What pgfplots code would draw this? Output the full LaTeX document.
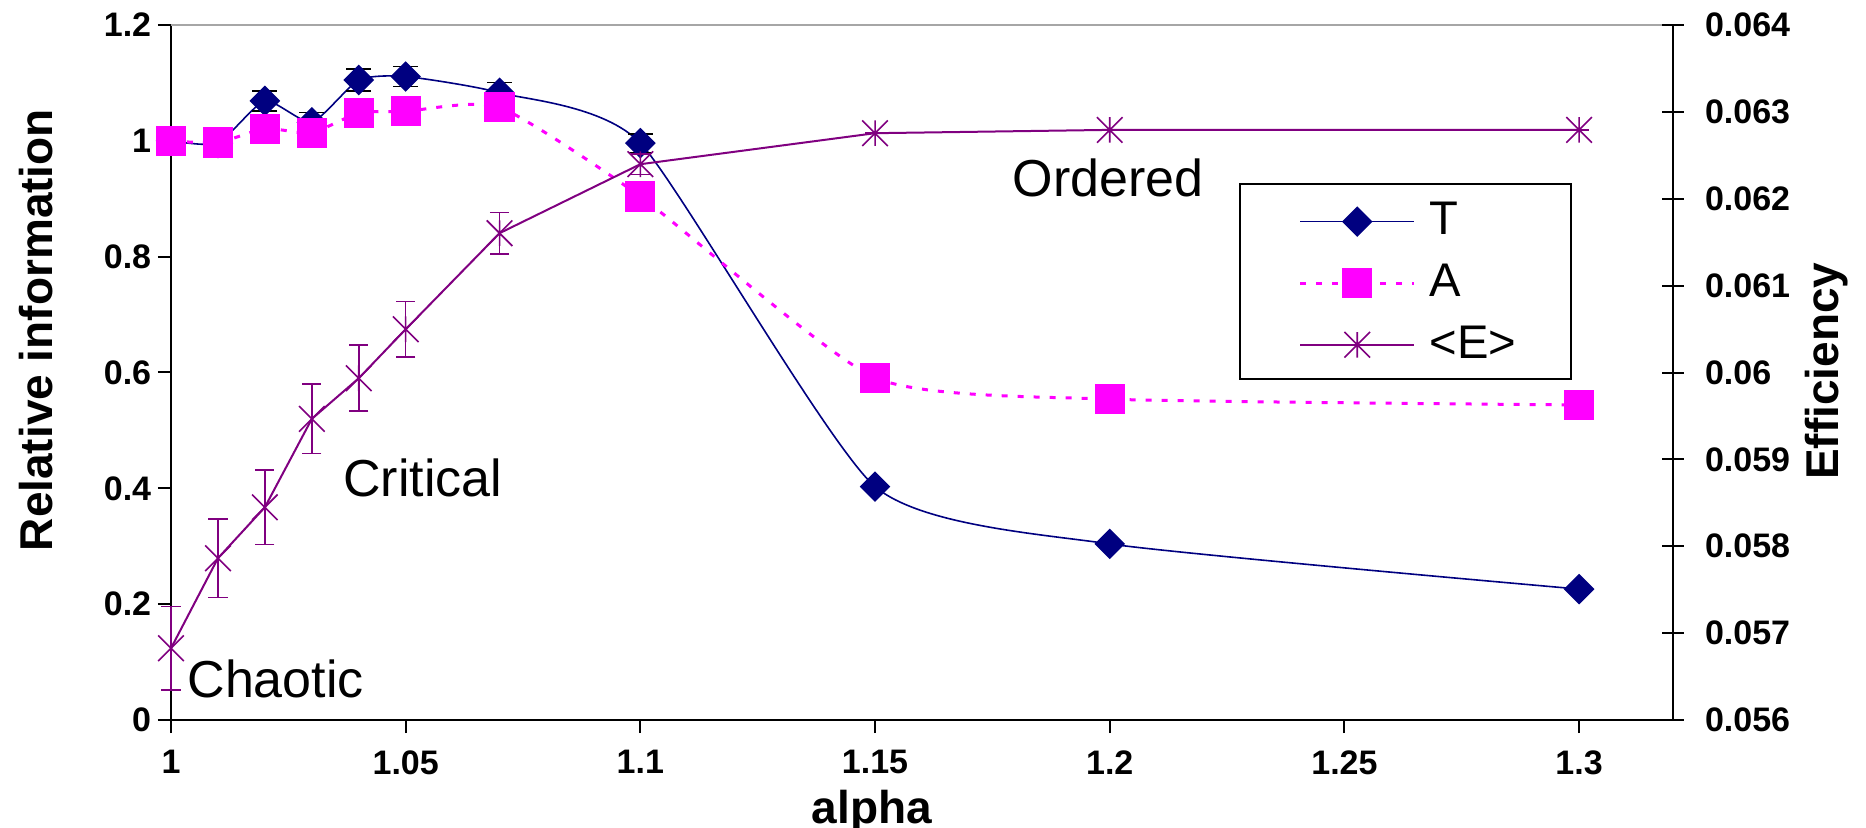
\documentclass[border=0pt]{standalone}
\usepackage{fontspec}
\setmainfont{Liberation Sans}
\usepackage{pgfplots}
\pgfplotsset{compat=1.18}
\usepackage{pgfplotstable}

\definecolor{Tcol}{RGB}{0,0,128}
\definecolor{Acol}{RGB}{255,0,255}
\definecolor{Ecol}{RGB}{128,0,128}

\pgfdeclareplotmark{xstar}{%
  \pgfpathmoveto{\pgfqpoint{-\pgfplotmarksize}{-\pgfplotmarksize}}%
  \pgfpathlineto{\pgfqpoint{\pgfplotmarksize}{\pgfplotmarksize}}%
  \pgfpathmoveto{\pgfqpoint{-\pgfplotmarksize}{\pgfplotmarksize}}%
  \pgfpathlineto{\pgfqpoint{\pgfplotmarksize}{-\pgfplotmarksize}}%
  \pgfpathmoveto{\pgfqpoint{0pt}{-\pgfplotmarksize}}%
  \pgfpathlineto{\pgfqpoint{0pt}{\pgfplotmarksize}}%
  \pgfusepathqstroke}

\pgfplotstableread{
x y e
1.00 1.000 0.015
1.01 0.996 0.025
1.02 1.069 0.017
1.03 1.032 0.017
1.04 1.105 0.019
1.05 1.111 0.017
1.07 1.083 0.018
1.10 0.996 0.016
1.15 0.403 0
1.20 0.304 0
1.30 0.226 0
}\Tdata

\pgfplotstableread{
x y
1.00 1.000
1.01 0.997
1.02 1.021
1.03 1.014
1.04 1.048
1.05 1.051
1.07 1.058
1.10 0.904
1.15 0.591
1.20 0.554
1.30 0.544
}\Adata

\pgfplotstableread{
x y e
1.00 0.056826 0.00048
1.01 0.057862 0.00045
1.02 0.058449 0.00043
1.03 0.059466 0.00040
1.04 0.059934 0.00038
1.05 0.060498 0.00032
1.07 0.061604 0.00024
1.10 0.062398 0.00012
1.15 0.062755 0
1.20 0.062793 0
1.30 0.062793 0
}\Edata

\begin{document}
\begin{tikzpicture}
\begin{axis}[
  at={(0,0)}, anchor=south west,
  scale only axis, width=375.5bp, height=173.75bp,
  xmin=1, xmax=1.32, ymin=0, ymax=1.2,
  axis x line*=bottom, axis y line*=left,
  axis line style={line width=0.6bp, black},
  xtick={1,1.05,1.1,1.15,1.2,1.25,1.3},
  xticklabels={1,1.05,1.1,1.15,1.2,1.25,1.3},
  ytick={0,0.2,0.4,0.6,0.8,1,1.2},
  yticklabels={0,0.2,0.4,0.6,0.8,1,1.2},
  tick align=outside, major tick length=3.25bp,
  tick style={line width=0.5bp, black},
  /pgf/number format/assume math mode=true,
  ticklabel style={font=\bfseries\fontsize{8.5bp}{10bp}\selectfont},
  yticklabel style={xshift=1.8bp},
  xticklabel style={yshift=-0.8bp},
  xlabel={alpha}, ylabel={Relative information},
  label style={font=\bfseries\fontsize{11.5bp}{13bp}\selectfont},
  xlabel style={at={(rel axis cs:0.4667,-0.1324)}, anchor=center},
  ylabel style={at={(rel axis cs:-0.0899,0.561)}, anchor=center},
  clip=false,
]
\draw[gray!70, line width=0.5bp] (rel axis cs:0,1) -- (rel axis cs:1,1);

\addplot[Tcol, line width=0.4bp, smooth, tension=0.35,
  mark=square*, mark size=2.5bp,
  mark options={rotate=45, solid, fill=Tcol, draw=Tcol},
  error bars/.cd, y dir=both, y explicit,
  error bar style={black, line width=0.4bp},
  error mark options={rotate=90, black, mark size=3.1bp, line width=0.4bp}]
  table[x=x, y=y, y error=e]{\Tdata};

\addplot[Acol, line width=0.75bp, dash pattern=on 1.5bp off 2.5bp, smooth, tension=0.35,
  mark=square*, mark size=3.4bp,
  mark options={solid, fill=Acol, draw=Acol}]
  table[x=x, y=y]{\Adata};

\node[anchor=base west, inner sep=0pt, font=\fontsize{13bp}{15bp}\selectfont] at (axis cs:1.00334,0.0397) {Chaotic};
\node[anchor=base west, inner sep=0pt, font=\fontsize{13bp}{15bp}\selectfont] at (axis cs:1.03653,0.3857) {Critical};
\node[anchor=base west, inner sep=0pt, font=\fontsize{13bp}{15bp}\selectfont] at (axis cs:1.1792,0.9038) {Ordered};
\end{axis}

\begin{axis}[
  at={(0,0)}, anchor=south west,
  scale only axis, width=375.5bp, height=173.75bp,
  xmin=1, xmax=1.32, ymin=0.056, ymax=0.064,
  axis x line=none, axis y line*=right,
  axis line style={line width=0.6bp, black},
  ytick={0.056,0.057,0.058,0.059,0.06,0.061,0.062,0.063,0.064},
  yticklabels={0.056,0.057,0.058,0.059,0.06,0.061,0.062,0.063,0.064},
  scaled y ticks=false,
  tick align=center, major tick length=5.4bp,
  tick style={line width=0.5bp, black},
  ticklabel style={font=\bfseries\fontsize{8.5bp}{10bp}\selectfont},
  yticklabel style={xshift=1.8bp},
  ylabel={Efficiency},
  label style={font=\bfseries\fontsize{11.5bp}{13bp}\selectfont},
  ylabel style={at={(rel axis cs:1.1025,0.502)}, anchor=center, rotate=0},
  clip=false,
  legend image code/.code={%
    \draw[mark repeat=2,mark phase=2,#1] plot coordinates {(0bp,0bp) (14.25bp,0bp) (28.5bp,0bp)};},
  legend cell align=left,
  legend style={at={(rel axis cs:0.7117,0.7712)}, anchor=north west,
    draw=none, fill=none,
    inner xsep=14.5bp, inner ysep=2.4bp, row sep=1.8bp,
    font=\fontsize{11.8bp}{14bp}\selectfont,
    nodes={inner xsep=3.5bp}},
]
\draw[black, line width=0.5bp, fill=white] (rel axis cs:0.7117,0.4906) rectangle (rel axis cs:0.9321,0.7712);
\addlegendimage{Tcol, line width=0.4bp, mark=square*, mark size=2.5bp, mark options={rotate=45, solid, fill=Tcol, draw=Tcol}}
\addlegendentry{T}
\addlegendimage{Acol, line width=0.75bp, dash pattern=on 1.5bp off 2.5bp, mark=square*, mark size=3.4bp, mark options={solid, fill=Acol, draw=Acol}}
\addlegendentry{A}
\addplot[Ecol, line width=0.5bp,
  mark=xstar, mark size=3.2bp, mark options={solid, line width=0.4bp},
  error bars/.cd, y dir=both, y explicit,
  error bar style={Ecol, line width=0.4bp},
  error mark options={rotate=90, Ecol, mark size=2.4bp, line width=0.4bp}]
  table[x=x, y=y, y error=e]{\Edata};
\addlegendentry{<E>}
\end{axis}

\pgfresetboundingbox
\path[use as bounding box] (-42.75bp,-27bp) rectangle (423.75bp,180bp);
\end{tikzpicture}
\end{document}
